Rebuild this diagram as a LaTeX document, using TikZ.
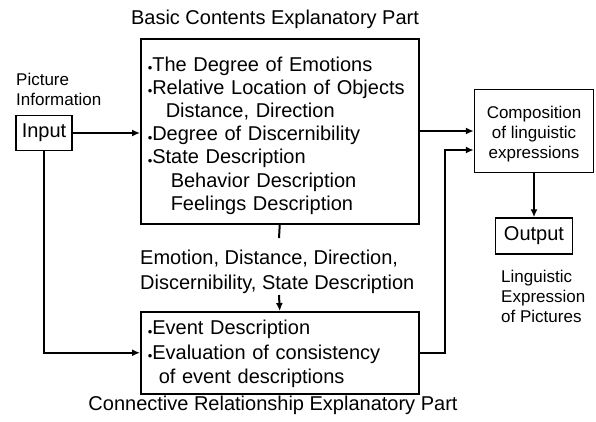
\documentclass[tikz,border=0pt]{standalone}
\usepackage{fontspec}
\setmainfont{Liberation Sans}
\usepackage{tikz}
\usetikzlibrary{arrows.meta}

\newcommand{\bul}{\raisebox{-1.5pt}{\fontsize{13}{13}\selectfont\textbullet}}

\begin{document}
\begin{tikzpicture}[x=1pt,y=-1pt,>={Latex[length=8pt,width=7pt]},
			part node/.style={rectangle,draw,line width=1.5pt,font=\fontsize{20}{23.2}\selectfont},
			list node/.style={part node,anchor=north west,align=left,inner xsep=7pt,text width=264pt,minimum width=278pt},
			small node/.style={font=\fontsize{17}{20}\selectfont,inner sep=0pt},
			big node/.style={font=\fontsize{20}{25}\selectfont,inner sep=0pt},
			flow/.style={draw,line width=2pt}]
			\useasboundingbox (0,0) rectangle (596,421);
			
			\node[big node] (basictitle) at (275,19) {Basic Contents Explanatory Part};
			\node[list node,minimum height=185pt] (basic) at (140,38) {\rule{0pt}{23pt}\bul The Degree of Emotions\\
				\bul Relative Location of Objects\\
				\hspace*{18pt}Distance, Direction\\
				\bul Degree of Discernibility\\
				\bul State Description\\
				\hspace*{23pt}Behavior Description\\
				\hspace*{23pt}Feelings Description};
			
			\node[part node,minimum width=56pt,minimum height=35pt] (input) at (44,133) {Input};
			\node[small node,align=left,anchor=west] (picinfo) at (16,89) {Picture\\Information};
			
			\node[part node,font=\fontsize{17}{20}\selectfont,align=center,minimum width=119pt,minimum height=83pt] (compose) at (534,131) {\rule{0pt}{19pt}Composition\\of linguistic\\expressions};
			\node[part node,minimum width=77pt,minimum height=36pt] (output) at (534,236) {Output};
			\node[small node,align=left,anchor=west] (lingexp) at (501,296) {Linguistic\\Expression\\of Pictures};
			
			\node[big node,align=left,anchor=west] (feature) at (140,272) {Emotion, Distance, Direction,\\Discernibility, State Description};
			
			\node[list node,font=\fontsize{20}{24.5}\selectfont,minimum height=82pt] (connect) at (140,311) {\rule{0pt}{17pt}\bul Event Description\\
				\bul Evaluation of consistency\\
				\hspace*{11pt}of event descriptions};
			\node[big node] (conntitle) at (273,405) {Connective Relationship Explanatory Part};
			
			\coordinate (gapend) at (279,238);
			\coordinate (gapstart) at (279,295);
			\coordinate (joinin) at (445,150);
			
			\path[flow] (basic.south) -- (gapend);
			\path[flow,->] (gapstart) -- (connect.north);
			\path[flow,->] (input.east) -- (input -| basic.west);
			\path[flow,->] (input.south) |- (connect.west);
			\path[flow,->] (basic.east |- compose) -- (compose.west);
			\path[flow,->] (connect.east) -| (joinin) -- (joinin -| compose.west);
			\path[flow,->] (compose) -- (output);
\end{tikzpicture}
\end{document}
